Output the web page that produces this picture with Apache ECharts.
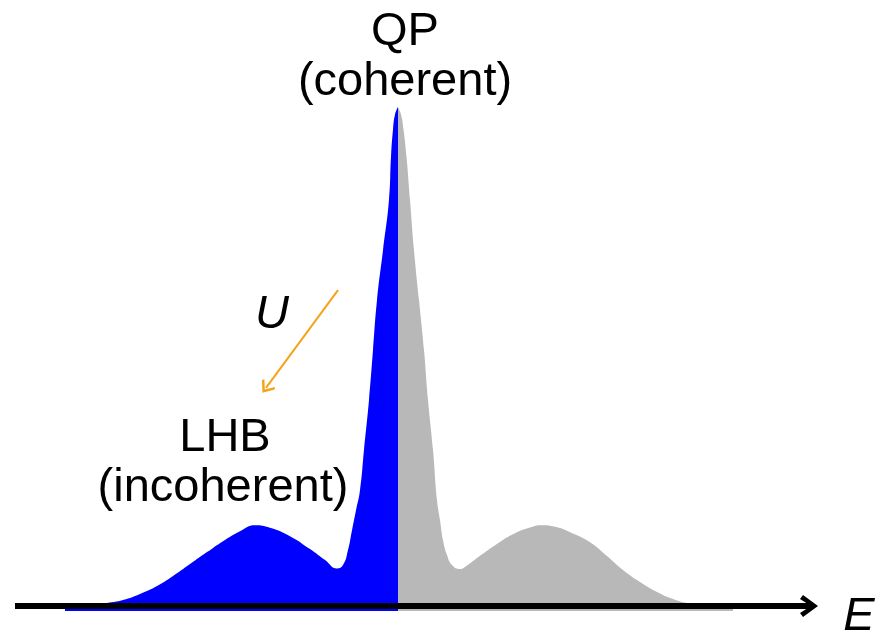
<!DOCTYPE html>
<html>
<head>
<meta charset="utf-8">
<script src="https://cdn.jsdelivr.net/npm/echarts@6/dist/echarts.min.js"></script>
<style>
html,body{margin:0;padding:0;background:#fff;}
#chart{width:881px;height:634px;}
</style>
</head>
<body>
<div id="chart"></div>
<script>
// Energy (E) and spectral weight A(E)
var occE = [-3.33,-3.08,-2.91,-2.75,-2.58,-2.41,-2.25,-2.08,-1.91,-1.75,-1.58,-1.43,-1.28,-1.08,-0.88,-0.73,-0.61,-0.55,-0.50,-0.46,-0.42,-0.38,-0.34,-0.29,-0.25,-0.21,-0.15,-0.09,-0.07,-0.05,-0.03,0];
var occA = [0,0.002,0.006,0.012,0.024,0.040,0.060,0.084,0.108,0.130,0.150,0.162,0.157,0.140,0.114,0.092,0.075,0.082,0.112,0.152,0.192,0.232,0.313,0.413,0.513,0.613,0.713,0.814,0.900,0.955,0.985,1.0];
var empE = [0,0.03,0.055,0.085,0.12,0.16,0.21,0.26,0.30,0.35,0.39,0.42,0.45,0.49,0.54,0.62,0.67,0.83,1.00,1.17,1.33,1.43,1.57,1.70,1.92,2.09,2.25,2.42,2.59,2.75,2.92,3.12,3.35];
var empA = [1.0,0.985,0.955,0.900,0.814,0.713,0.613,0.513,0.413,0.313,0.212,0.172,0.132,0.102,0.082,0.074,0.078,0.102,0.126,0.146,0.158,0.162,0.159,0.150,0.128,0.100,0.072,0.048,0.028,0.014,0.005,0.001,0];
// Arrow for U (start, end) in (E, A)
var uArrowStart = [-0.60, 0.633];
var uArrowEnd = [-1.32, 0.437];
var labels = {qp: ['QP', '(coherent)'], lhb: ['LHB', '(incoherent)'], u: 'U', e: 'E'};

function pairs(xs, ys){ var out=[]; for (var i=0;i<xs.length;i++) out.push([xs[i], ys[i]]); return out; }

var chart = echarts.init(document.getElementById('chart'), null, {renderer:'canvas'});
var font = '"Liberation Sans", Arial, sans-serif';
chart.setOption({
  animation: false,
  backgroundColor: '#ffffff',
  grid: {left: 18, right: 72, top: 107, bottom: 23},
  xAxis: {
    type: 'value', min: -3.8, max: 4.11, z: 10,
    axisLine: {show: true, onZero: true,
      symbol: ['none', 'path://M11,0 L22,15 L18,18 L11,7 L4,18 L0,15 Z'],
      symbolSize: [22, 18],
      lineStyle: {color: '#000', width: 6, cap: 'square'}},
    axisTick: {show: false}, axisLabel: {show: false}, splitLine: {show: false}
  },
  yAxis: {
    type: 'value', min: -0.01, max: 1.0, show: false, splitLine: {show: false}
  },
  series: [
    {type: 'line', data: pairs(occE, occA), smooth: 0.5, symbol: 'none',
     lineStyle: {width: 0}, areaStyle: {color: '#0000ff', opacity: 1, origin: 'start'},
     markLine: {silent: true, symbol: ['none', 'path://M0,10 L10,0 L20,10 L18,12 L10,4 L2,12 Z'], symbolSize: [16, 12],
       label: {show: false}, lineStyle: {color: '#f5a31a', width: 2, type: 'solid'},
       data: [[{coord: uArrowStart}, {coord: uArrowEnd}]]}},
    {type: 'line', data: pairs(empE, empA), smooth: 0.5, symbol: 'none',
     lineStyle: {width: 0}, areaStyle: {color: '#b8b8b8', opacity: 1, origin: 'start'}}
  ],
  graphic: [
    {type: 'text', x: 405, y: 32, style: {text: labels.qp[0], font: '47px ' + font, fill: '#000', align: 'center', verticalAlign: 'middle'}},
    {type: 'text', x: 405, y: 82, style: {text: labels.qp[1], font: '47px ' + font, fill: '#000', align: 'center', verticalAlign: 'middle'}},
    {type: 'text', x: 225, y: 438, style: {text: labels.lhb[0], font: '47px ' + font, fill: '#000', align: 'center', verticalAlign: 'middle'}},
    {type: 'text', x: 223, y: 488, style: {text: labels.lhb[1], font: '47px ' + font, fill: '#000', align: 'center', verticalAlign: 'middle'}},
    {type: 'text', x: 272, y: 315, style: {text: labels.u, font: 'italic 47px ' + font, fill: '#000', align: 'center', verticalAlign: 'middle'}},
    {type: 'text', x: 859, y: 617, style: {text: labels.e, font: 'italic 47px ' + font, fill: '#000', align: 'center', verticalAlign: 'middle'}}
  ]
});
</script>
</body>
</html>
